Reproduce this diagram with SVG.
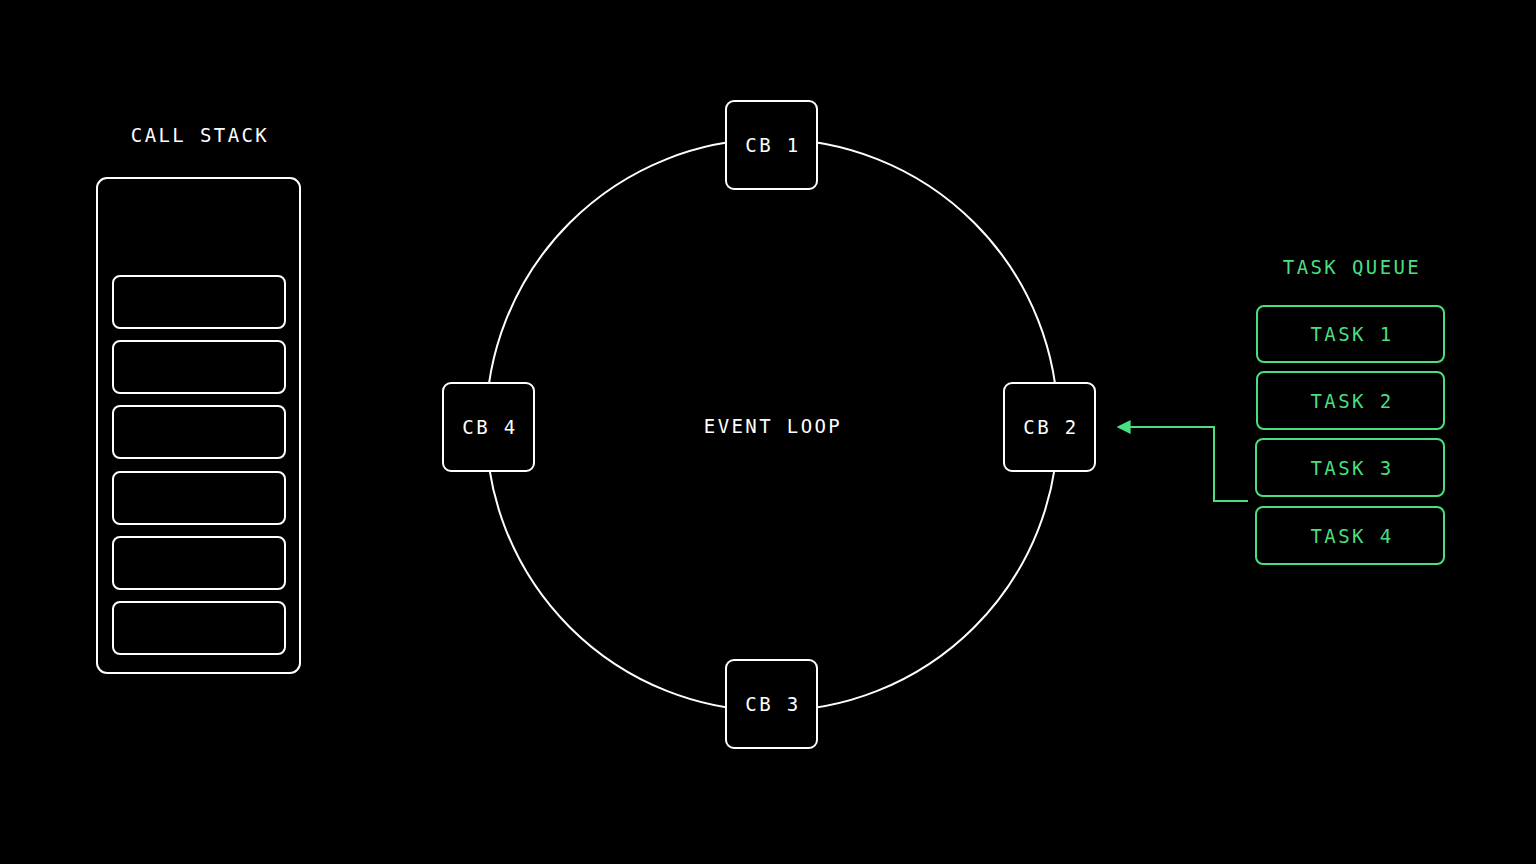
<svg xmlns="http://www.w3.org/2000/svg" width="1536" height="864" viewBox="0 0 1536 864">
<defs>
<style>
.w{fill:#000;stroke:#fff;stroke-width:2}
.g{fill:#000;stroke:#4ade80;stroke-width:2}
.t{font-family:"DejaVu Sans Mono","Liberation Mono",monospace;font-size:19px;letter-spacing:2.4px;text-anchor:middle;dominant-baseline:central}
.tw{fill:#fff}
.tg{fill:#4ade80}
</style>
<marker id="ah" viewBox="0 0 10 10" refX="9" refY="5" markerWidth="14" markerHeight="14" markerUnits="userSpaceOnUse" orient="auto">
<path d="M0,0 L10,5 L0,10 z" fill="#4ade80"/>
</marker>
</defs>
<rect width="1536" height="864" fill="#000"/>
<g id="event-loop">
<circle cx="772" cy="425" r="286" fill="none" stroke="#fff" stroke-width="2"/>
<text class="t tw" x="773" y="426">EVENT LOOP</text>
</g>
<g id="call-stack">
<text class="t tw" x="200" y="135">CALL STACK</text>
<rect class="w" x="97" y="178" width="203" height="495" rx="10"/>
<rect class="w" x="113" y="276" width="172" height="52" rx="7"/>
<rect class="w" x="113" y="341" width="172" height="52" rx="7"/>
<rect class="w" x="113" y="406" width="172" height="52" rx="7"/>
<rect class="w" x="113" y="472" width="172" height="52" rx="7"/>
<rect class="w" x="113" y="537" width="172" height="52" rx="7"/>
<rect class="w" x="113" y="602" width="172" height="52" rx="7"/>
</g>
<g id="cb1"><rect class="w" x="726" y="101" width="91" height="88" rx="8"/><text class="t tw" x="773" y="145">CB 1</text></g>
<g id="cb2"><rect class="w" x="1004" y="383" width="91" height="88" rx="8"/><text class="t tw" x="1051" y="427">CB 2</text></g>
<g id="cb3"><rect class="w" x="726" y="660" width="91" height="88" rx="8"/><text class="t tw" x="773" y="704">CB 3</text></g>
<g id="cb4"><rect class="w" x="443" y="383" width="91" height="88" rx="8"/><text class="t tw" x="490" y="427">CB 4</text></g>
<g id="task-queue">
<text class="t tg" x="1352" y="267">TASK QUEUE</text>
</g>
<g id="task1"><rect class="g" x="1257" y="306" width="187" height="56" rx="7"/><text class="t tg" x="1352" y="334">TASK 1</text></g>
<g id="task2"><rect class="g" x="1257" y="372" width="187" height="57" rx="7"/><text class="t tg" x="1352" y="401">TASK 2</text></g>
<g id="task3"><rect class="g" x="1256" y="439" width="188" height="57" rx="7"/><text class="t tg" x="1352" y="468">TASK 3</text></g>
<g id="task4"><rect class="g" x="1256" y="507" width="188" height="57" rx="7"/><text class="t tg" x="1352" y="536">TASK 4</text></g>
<g id="connectors">
<polyline points="1248,501 1214,501 1214,427 1118,427" fill="none" stroke="#4ade80" stroke-width="2" marker-end="url(#ah)"/>
</g>
</svg>
